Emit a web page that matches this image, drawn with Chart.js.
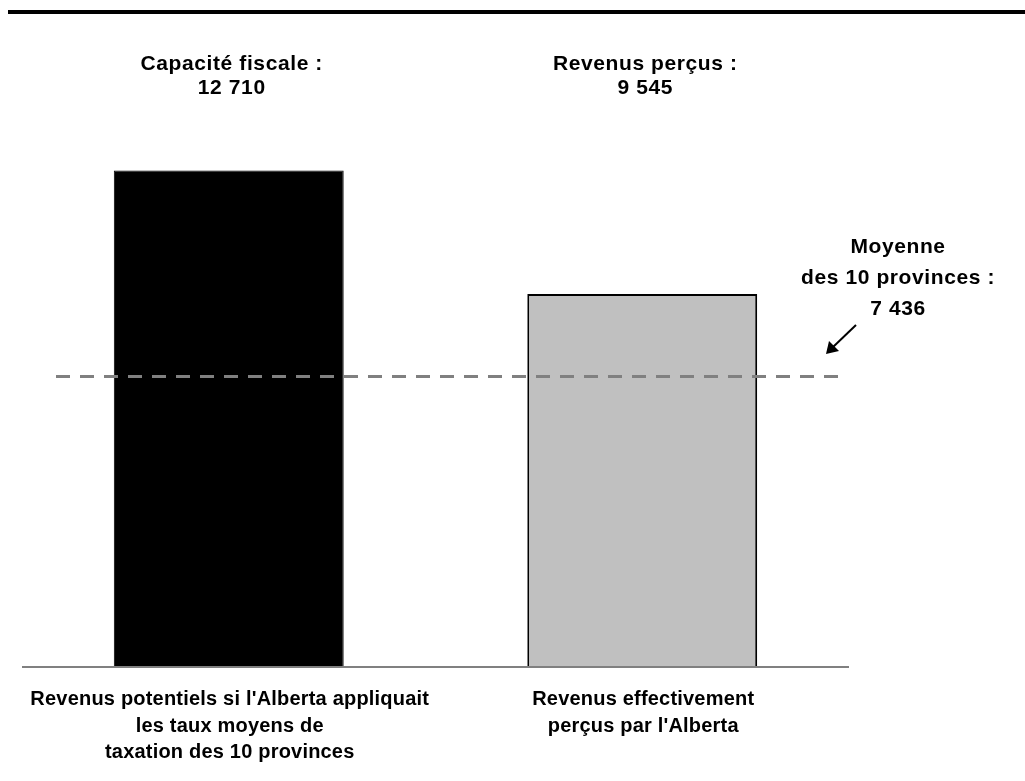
<!DOCTYPE html>
<html lang="fr">
<head>
<meta charset="utf-8">
<title>Capacité fiscale de l'Alberta</title>
<script src="https://cdn.jsdelivr.net/npm/chart.js@4/dist/chart.umd.min.js"></script>
<style>
  html, body { margin: 0; padding: 0; background: #fff; }
  canvas { display: block; }
</style>
</head>
<body>
<canvas id="capaciteChart" width="1025" height="781"></canvas>
<script>
// données (dollars par habitant)
var categories = [
    ["Revenus potentiels si l'Alberta appliquait", "les taux moyens de", "taxation des 10 provinces"],
    ["Revenus effectivement", "perçus par l'Alberta"]
];
var titres = [["Capacité fiscale :", "12 710"], ["Revenus perçus :", "9 545"]];
var valeurs = [12710, 9545];
var moyenne = 7436;
var moyenneTexte = ["Moyenne", "des 10 provinces :", "7 436"];

var policeHaut = 'bold 21px "Liberation Sans", Arial, sans-serif';
var policeBas = 'bold 20px "Liberation Sans", Arial, sans-serif';

// tout le texte, la ligne de base, la moyenne en tirets et la flèche
var decor = {
    id: 'decor',
    afterDatasetsDraw: function (chart) {
        var c = chart.ctx;
        var area = chart.chartArea;
        var x = chart.scales.x;
        var y = chart.scales.y;
        c.save();

        // filet épais en haut
        c.fillStyle = '#000';
        c.fillRect(8, 10, 1017, 4);

        // axe horizontal
        c.strokeStyle = '#808080';
        c.lineWidth = 2;
        c.beginPath();
        c.moveTo(area.left, area.bottom);
        c.lineTo(area.right, area.bottom);
        c.stroke();

        // moyenne des 10 provinces
        var ym = y.getPixelForValue(moyenne);
        c.strokeStyle = '#808080';
        c.lineWidth = 3;
        c.setLineDash([14, 10]);
        c.beginPath();
        c.moveTo(56, ym);
        c.lineTo(840, ym);
        c.stroke();
        c.setLineDash([]);

        // flèche
        c.strokeStyle = '#000';
        c.fillStyle = '#000';
        c.lineWidth = 2;
        c.beginPath();
        c.moveTo(856, 325);
        c.lineTo(832, 348);
        c.stroke();
        c.beginPath();
        c.moveTo(826, 354);
        c.lineTo(829, 341);
        c.lineTo(839, 351);
        c.closePath();
        c.fill();

        c.textAlign = 'center';
        c.textBaseline = 'alphabetic';
        c.fillStyle = '#000';

        // titres au-dessus des barres
        c.font = policeHaut;
        c.letterSpacing = '0.6px';
        titres.forEach(function (lignes, i) {
            var cx = x.getPixelForValue(i) + 3;
            lignes.forEach(function (t, k) {
                c.fillText(t, cx, 70 + k * 24);
            });
        });

        moyenneTexte.forEach(function (t, k) {
            c.fillText(t, 898, 253 + k * 31);
        });

        // étiquettes de catégorie
        c.font = policeBas;
        c.letterSpacing = '0.2px';
        categories.forEach(function (lignes, i) {
            var cx = x.getPixelForValue(i) + 1;
            lignes.forEach(function (t, k) {
                c.fillText(t, cx, 705 + k * 26.5);
            });
        });

        c.restore();
    }
};

var ctx = document.getElementById('capaciteChart');
var chart = new Chart(ctx, {
    type: 'bar',
    data: {
        labels: categories,
        datasets: [{
            data: valeurs,
            backgroundColor: ['#000000', '#c0c0c0'],
            borderColor: ['#000000', '#000000'],
            borderWidth: [1, 2],
            barPercentage: 0.556,
            categoryPercentage: 1
        }]
    },
    options: {
        responsive: false,
        animation: false,
        layout: {
            padding: { left: 22, right: 176, top: 120, bottom: 114 }
        },
        plugins: {
            legend: { display: false },
            tooltip: { enabled: false }
        },
        scales: {
            x: { display: false },
            y: { display: false, min: 0, max: 14000 }
        }
    },
    plugins: [decor]
});
</script>
</body>
</html>
